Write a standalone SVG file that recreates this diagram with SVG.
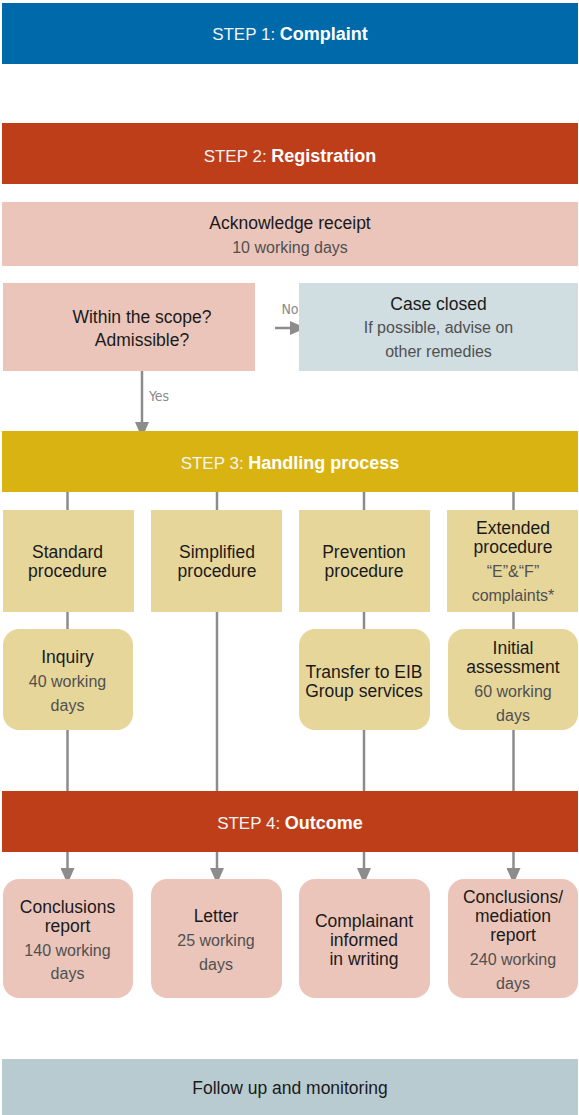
<svg xmlns="http://www.w3.org/2000/svg" width="579" height="1115" viewBox="0 0 579 1115">
<style>
text{font-family:"Liberation Sans",Arial,sans-serif;text-anchor:middle}
.hd{font-size:18px;fill:#fff}
.lt{font-weight:normal;fill:#f3f3f3;font-size:17px}
.bd{font-weight:bold}
.t{font-size:17.5px;fill:#1a1a1a}
.g{font-size:16px;fill:#505050}
.lb{font-family:"Liberation Sans Narrow","DejaVu Sans Condensed",sans-serif;font-size:14px;fill:#8a8a8a}
.pink{fill:#EBC5BA}
.yel{fill:#E7D69A}
.red{fill:#BE3E1A}
.ln{stroke:#8c8c8c;stroke-width:2.5;fill:none}
</style>
<defs>
<marker id="ah" markerUnits="userSpaceOnUse" markerWidth="16" markerHeight="14" refX="16" refY="7" orient="auto">
<path d="M0,0 L16,7 L0,14 z" fill="#8c8c8c"/>
</marker>
</defs>
<g id="connectors">
<line class="ln" x1="67.5" y1="492" x2="67.5" y2="791"/>
<line class="ln" x1="217" y1="492" x2="217" y2="791"/>
<line class="ln" x1="364" y1="492" x2="364" y2="791"/>
<line class="ln" x1="513.5" y1="492" x2="513.5" y2="791"/>
<line class="ln" x1="67.5" y1="852" x2="67.5" y2="884" marker-end="url(#ah)"/>
<line class="ln" x1="217" y1="852" x2="217" y2="884" marker-end="url(#ah)"/>
<line class="ln" x1="364" y1="852" x2="364" y2="884" marker-end="url(#ah)"/>
<line class="ln" x1="513.5" y1="852" x2="513.5" y2="884" marker-end="url(#ah)"/>
<line class="ln" x1="142" y1="371" x2="142" y2="438" marker-end="url(#ah)"/>
<line class="ln" x1="275" y1="328" x2="306" y2="328" marker-end="url(#ah)"/>
<text class="lb" x="290" y="314">No</text>
<text class="lb" x="159" y="401">Yes</text>
</g>
<g id="step1"><rect x="2" y="3" width="576" height="61" fill="#0069AA"/>
<text class="hd" x="290" y="40"><tspan class="lt">STEP 1: </tspan><tspan class="bd">Complaint</tspan></text></g>
<g id="step2"><rect class="red" x="2" y="123" width="576" height="61"/>
<text class="hd" x="290" y="162"><tspan class="lt">STEP 2: </tspan><tspan class="bd">Registration</tspan></text></g>
<g id="acknowledge"><rect class="pink" x="2" y="202" width="576" height="64"/>
<text class="t" x="290" y="229">Acknowledge receipt</text>
<text class="g" x="290" y="253">10 working days</text></g>
<g id="scope"><rect class="pink" x="3" y="283" width="252" height="88"/>
<text class="t" x="142" y="323">Within the scope?</text>
<text class="t" x="142" y="346">Admissible?</text></g>
<g id="closed"><rect x="299" y="283" width="279" height="88" fill="#D0DDE1"/>
<text class="t" x="438.5" y="310">Case closed</text>
<text class="g" x="438.5" y="333">If possible, advise on</text>
<text class="g" x="438.5" y="357">other remedies</text></g>
<g id="step3"><rect x="2" y="431" width="576" height="61" fill="#D9B311"/>
<text class="hd" x="290" y="469"><tspan class="lt">STEP 3: </tspan><tspan class="bd">Handling process</tspan></text></g>
<g id="standard"><rect class="yel" x="3" y="510" width="131" height="102"/>
<text class="t" x="67.5" y="558">Standard</text><text class="t" x="67.5" y="577">procedure</text></g>
<g id="simplified"><rect class="yel" x="151" y="510" width="131" height="102"/>
<text class="t" x="217" y="558">Simplified</text><text class="t" x="217" y="577">procedure</text></g>
<g id="prevention"><rect class="yel" x="299" y="510" width="131" height="102"/>
<text class="t" x="364" y="558">Prevention</text><text class="t" x="364" y="577">procedure</text></g>
<g id="extended"><rect class="yel" x="447" y="510" width="131" height="102"/>
<text class="t" x="513" y="534">Extended</text><text class="t" x="513" y="553">procedure</text>
<text class="g" x="513" y="577">“E”&amp;“F”</text><text class="g" x="513" y="601">complaints*</text></g>
<g id="inquiry"><rect class="yel" x="3" y="629" width="130" height="101" rx="16"/>
<text class="t" x="67.5" y="663">Inquiry</text><text class="g" x="67.5" y="687">40 working</text><text class="g" x="67.5" y="711">days</text></g>
<g id="transfer"><rect class="yel" x="299" y="629" width="131" height="101" rx="16"/>
<text class="t" x="364" y="678">Transfer to EIB</text><text class="t" x="364" y="697">Group services</text></g>
<g id="initial"><rect class="yel" x="448" y="629" width="130" height="101" rx="16"/>
<text class="t" x="513" y="654">Initial</text><text class="t" x="513" y="673">assessment</text>
<text class="g" x="513" y="697">60 working</text><text class="g" x="513" y="721">days</text></g>
<g id="step4"><rect class="red" x="2" y="791" width="576" height="61"/>
<text class="hd" x="290" y="829"><tspan class="lt">STEP 4: </tspan><tspan class="bd">Outcome</tspan></text></g>
<g id="conclusions"><rect class="pink" x="3" y="879" width="130" height="119" rx="16"/>
<text class="t" x="67.5" y="913">Conclusions</text><text class="t" x="67.5" y="932">report</text>
<text class="g" x="67.5" y="956">140 working</text><text class="g" x="67.5" y="979">days</text></g>
<g id="letter"><rect class="pink" x="151" y="879" width="131" height="119" rx="16"/>
<text class="t" x="216" y="922">Letter</text><text class="g" x="216" y="946">25 working</text><text class="g" x="216" y="970">days</text></g>
<g id="informed"><rect class="pink" x="299" y="879" width="131" height="119" rx="16"/>
<text class="t" x="364" y="927">Complainant</text><text class="t" x="364" y="946">informed</text><text class="t" x="364" y="965">in writing</text></g>
<g id="mediation"><rect class="pink" x="448" y="879" width="130" height="119" rx="16"/>
<text class="t" x="513" y="903">Conclusions/</text><text class="t" x="513" y="922">mediation</text><text class="t" x="513" y="941">report</text>
<text class="g" x="513" y="965">240 working</text><text class="g" x="513" y="989">days</text></g>
<g id="followup"><rect x="2" y="1059" width="576" height="56" fill="#B8CBD0"/>
<text class="t" x="290" y="1094">Follow up and monitoring</text></g>
</svg>
